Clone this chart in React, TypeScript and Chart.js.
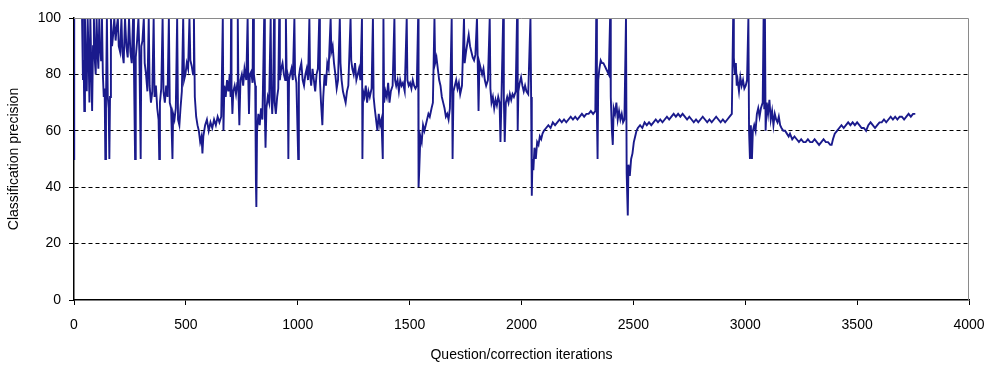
import React, { useEffect, useRef } from 'react';
import { Chart, registerables } from 'chart.js';

Chart.register(...registerables);

const xTitle = 'Question/correction iterations';
const yTitle = 'Classification precision';
const xTicks = [0, 500, 1000, 1500, 2000, 2500, 3000, 3500, 4000];
const yTicks = [0, 20, 40, 60, 80, 100];

// [iteration, precision %]
const phaseA: [number, number][] = [
  [0, 50], [1, 100], [36, 100], [40, 78], [43, 85], [46, 67], [49, 100], [53, 82], [57, 74], [61, 100],
  [65, 88], [69, 70], [73, 100], [77, 84], [81, 67], [85, 90], [89, 100], [93, 85], [97, 80], [101, 100],
  [105, 88], [109, 82], [113, 100], [117, 90], [121, 85], [125, 100], [129, 80], [133, 72], [137, 75], [140, 50],
  [143, 70], [147, 100], [151, 72], [155, 68], [158, 50], [161, 72], [165, 100], [170, 90], [176, 95], [180, 100],
  [186, 92], [190, 96], [196, 100], [200, 90], [206, 88], [212, 100], [216, 88], [222, 84], [228, 100], [234, 90],
  [240, 86], [246, 100], [252, 88], [258, 84], [264, 100], [268, 82], [273, 50], [276, 86], [282, 92], [288, 100],
  [292, 88], [298, 50], [301, 90], [306, 92], [312, 100], [316, 84], [322, 80], [328, 74], [334, 100], [338, 76],
  [344, 70], [350, 74], [356, 100], [360, 72], [366, 76], [372, 68], [378, 64], [381, 50], [384, 70], [390, 75],
  [396, 100], [400, 74], [406, 70], [412, 76], [418, 72], [424, 100], [428, 70], [434, 68], [440, 50], [443, 66],
  [449, 64], [455, 68], [461, 100], [465, 64], [471, 62], [476, 68], [482, 74], [488, 100], [492, 78], [498, 80],
  [504, 84], [510, 82], [516, 100], [520, 85], [526, 83], [532, 80], [536, 100], [540, 72], [546, 65], [552, 62],
  [558, 60], [564, 56], [570, 58], [574, 52], [578, 58], [586, 62], [594, 64], [602, 60], [610, 63], [618, 61],
  [626, 64], [634, 62], [642, 65], [650, 63], [658, 65],
];

const phaseB: [number, number][] = [
  [665, 100], [668, 60], [672, 76], [678, 72], [684, 78], [690, 74], [696, 80], [700, 72], [702, 100], [704, 76],
  [708, 66], [712, 74], [718, 76], [724, 73], [730, 77], [732, 100], [735, 74], [739, 62], [744, 78], [750, 80],
  [756, 76], [762, 82], [770, 78], [776, 100], [779, 78], [782, 66], [786, 80], [792, 81], [798, 77], [800, 100],
  [804, 80], [810, 76], [813, 42], [815, 33], [818, 60], [824, 66], [830, 62], [836, 68], [842, 64], [850, 100],
  [853, 66], [856, 54], [860, 68], [866, 72], [872, 70], [879, 100], [882, 72], [886, 66], [890, 74], [894, 100],
  [897, 70], [902, 66], [908, 72], [913, 75], [917, 100], [920, 78], [926, 82], [932, 84], [938, 80], [944, 78],
  [947, 100], [950, 82], [955, 80], [958, 50], [961, 78], [966, 80], [972, 82], [978, 78], [985, 100], [988, 80],
  [994, 77], [1002, 50], [1005, 79], [1010, 82], [1016, 84], [1022, 78], [1028, 76], [1034, 80], [1040, 82], [1046, 78],
  [1052, 100], [1055, 80], [1060, 76], [1066, 82], [1072, 78], [1078, 74], [1084, 80], [1090, 82], [1096, 100], [1099, 78],
  [1104, 70], [1110, 62], [1114, 72], [1120, 80], [1126, 76], [1132, 84], [1138, 82], [1147, 100], [1150, 88], [1156, 90],
  [1162, 84], [1168, 80], [1174, 75], [1180, 78], [1188, 100], [1191, 84], [1196, 78], [1202, 74], [1208, 72], [1214, 70],
  [1220, 74], [1226, 76], [1236, 100], [1239, 85], [1244, 82], [1250, 80], [1256, 84], [1262, 78], [1268, 80], [1274, 82],
  [1280, 78], [1287, 100], [1289, 50], [1292, 74], [1298, 72], [1304, 76], [1310, 70], [1316, 74], [1322, 72], [1330, 75],
  [1336, 100], [1339, 72], [1344, 68], [1350, 64], [1356, 60], [1362, 66], [1368, 62], [1374, 64], [1380, 50], [1383, 100],
  [1386, 70], [1392, 74], [1398, 72], [1404, 77], [1410, 70], [1416, 74], [1424, 76], [1432, 100], [1435, 78], [1440, 76],
  [1446, 78], [1452, 74], [1458, 78], [1464, 76], [1470, 77], [1478, 74], [1487, 100], [1490, 78], [1496, 76], [1502, 77],
  [1508, 75], [1514, 78], [1520, 76], [1526, 75], [1532, 76], [1538, 100], [1540, 40], [1543, 46], [1548, 58], [1554, 56],
  [1560, 62], [1566, 60], [1572, 62], [1578, 64], [1584, 66], [1590, 65], [1598, 68], [1604, 70], [1611, 100], [1614, 84],
  [1620, 86], [1626, 82], [1632, 78], [1638, 76], [1644, 72], [1650, 70], [1656, 68], [1662, 65], [1668, 66], [1674, 64],
  [1680, 68], [1688, 100], [1692, 50], [1696, 74], [1702, 76], [1708, 78], [1714, 75], [1720, 77], [1726, 73], [1734, 76],
  [1743, 100], [1746, 84], [1752, 88], [1758, 91], [1764, 94], [1770, 90], [1776, 88], [1782, 86], [1788, 85], [1794, 87],
  [1801, 100], [1804, 86], [1808, 67], [1812, 84], [1818, 82], [1824, 80], [1830, 82], [1836, 78], [1842, 76], [1850, 78],
  [1858, 100], [1861, 75], [1866, 70], [1872, 72], [1878, 68], [1884, 71], [1890, 69], [1896, 72], [1902, 70], [1906, 56],
  [1910, 70], [1918, 100], [1921, 72], [1925, 56], [1930, 70], [1936, 72], [1942, 70], [1948, 73], [1954, 71], [1960, 73],
  [1966, 72], [1974, 74], [1980, 100], [1983, 60], [1986, 74], [1992, 77], [1998, 79], [2004, 76], [2010, 74], [2016, 76],
  [2022, 74], [2030, 73], [2040, 100], [2043, 72], [2046, 37], [2049, 50], [2053, 46], [2058, 54], [2064, 50], [2070, 56],
  [2076, 55], [2082, 58], [2088, 57], [2094, 59],
];

const phaseC: [number, number][] = [
  [2100, 60], [2110, 61], [2120, 62], [2130, 61], [2140, 63], [2150, 62], [2160, 63], [2170, 64], [2180, 63], [2190, 64],
  [2200, 63], [2210, 64], [2220, 65], [2230, 64], [2240, 65], [2250, 64], [2260, 65], [2270, 66], [2280, 65], [2290, 66],
  [2300, 66], [2310, 67], [2320, 66], [2330, 67], [2334, 100], [2337, 66], [2340, 50], [2343, 78], [2348, 82], [2354, 85],
  [2360, 84], [2366, 84], [2372, 83], [2378, 82], [2384, 81], [2390, 80], [2396, 100], [2399, 72], [2404, 60], [2408, 55],
  [2412, 68], [2418, 66], [2424, 70], [2430, 64], [2436, 67], [2442, 64], [2448, 66], [2454, 63], [2460, 64], [2467, 100],
  [2470, 45], [2475, 30], [2478, 48], [2484, 44], [2490, 50], [2496, 52], [2502, 56], [2508, 58], [2514, 60], [2520, 61],
  [2530, 62], [2540, 61], [2550, 63], [2560, 62], [2570, 63], [2580, 62], [2590, 63], [2600, 64], [2610, 63], [2620, 64],
  [2630, 63], [2640, 64], [2650, 65], [2660, 64], [2670, 65], [2680, 66], [2690, 65], [2700, 66], [2710, 65], [2720, 66],
  [2730, 65], [2740, 64], [2750, 65], [2760, 64], [2770, 63], [2780, 64], [2790, 63], [2800, 64], [2810, 65], [2820, 64],
  [2830, 63], [2840, 64], [2850, 63], [2860, 64], [2870, 65], [2880, 64], [2890, 63], [2900, 64], [2910, 63], [2920, 64],
  [2930, 65], [2940, 66], [2946, 100], [2949, 86], [2954, 80], [2958, 84], [2962, 76], [2966, 78], [2972, 74], [2978, 79],
  [2984, 76], [2990, 78], [2996, 75], [3002, 76], [3008, 78], [3014, 100], [3017, 60], [3021, 50], [3025, 62], [3030, 50],
  [3034, 60], [3040, 62], [3046, 60], [3052, 66], [3058, 68], [3064, 65], [3070, 68], [3078, 70], [3082, 100], [3085, 68],
  [3088, 100], [3091, 60], [3096, 70], [3102, 66], [3108, 71], [3114, 64], [3120, 67], [3126, 62], [3132, 66], [3138, 64],
  [3144, 63], [3150, 65], [3156, 62], [3162, 61], [3170, 60], [3178, 60], [3186, 59], [3194, 58], [3200, 59], [3210, 57],
  [3220, 58], [3230, 57], [3240, 56], [3250, 57], [3260, 56], [3270, 56], [3280, 57], [3290, 56], [3300, 56], [3310, 57],
  [3320, 56], [3330, 55], [3340, 56], [3350, 57], [3360, 56], [3370, 56], [3380, 55], [3386, 55], [3392, 57], [3400, 59],
  [3410, 60], [3420, 61], [3430, 62], [3440, 61], [3450, 62], [3460, 63], [3470, 62], [3480, 63], [3490, 62], [3500, 63],
  [3510, 62], [3520, 61], [3530, 61], [3540, 60], [3550, 62], [3560, 63], [3570, 62], [3580, 61], [3590, 62], [3600, 63],
  [3610, 63], [3620, 64], [3630, 63], [3640, 64], [3650, 65], [3660, 64], [3670, 65], [3680, 64], [3690, 65], [3700, 65],
  [3710, 64], [3720, 65], [3730, 66], [3740, 65], [3750, 66], [3760, 66],
];

const FONT = 'Arial, "Liberation Sans", sans-serif';

export default function App() {
  const ref = useRef<HTMLCanvasElement>(null);

  useEffect(() => {
    if (!ref.current) return;
    const points = [...phaseA, ...phaseB, ...phaseC].map(([x, y]) => ({ x, y }));

    const framePlugin = {
      id: 'frame',
      afterDatasetsDraw(chart: any) {
        const { ctx, chartArea } = chart;
        ctx.save();
        ctx.strokeStyle = '#8a8a8a';
        ctx.lineWidth = 1;
        ctx.beginPath();
        ctx.moveTo(chartArea.left, chartArea.top + 0.5);
        ctx.lineTo(chartArea.right - 0.5, chartArea.top + 0.5);
        ctx.lineTo(chartArea.right - 0.5, chartArea.bottom);
        ctx.stroke();
        ctx.restore();
      },
    };

    const chart = new Chart(ref.current, {
      type: 'line',
      data: {
        datasets: [
          {
            data: points,
            borderColor: '#1a1a8c',
            borderWidth: 1.9,
            pointRadius: 0,
            tension: 0,
            fill: false,
          },
        ],
      },
      options: {
        animation: false,
        responsive: false,
        parsing: false as any,
        layout: { padding: { top: 18, right: 20, left: 0, bottom: 0 } },
        plugins: { legend: { display: false }, tooltip: { enabled: false } },
        scales: {
          x: {
            type: 'linear',
            min: xTicks[0],
            max: xTicks[xTicks.length - 1],
            afterBuildTicks: (s: any) => { s.ticks = xTicks.map((v) => ({ value: v })); },
            ticks: {
              color: '#000',
              font: { family: FONT, size: 14 },
              padding: 12,
              maxRotation: 0,
              autoSkip: false,
              callback: (v: any) => String(v),
            },
            grid: { drawOnChartArea: false, drawTicks: true, tickLength: 5, tickColor: '#000' },
            border: { color: '#000', width: 1.5 },
            title: { display: true, text: xTitle, color: '#000', font: { family: FONT, size: 14 }, padding: { top: 4, bottom: 2 } },
            afterFit: (s: any) => { s.height = 66; s.paddingLeft = 0; s.paddingRight = 0; },
          },
          y: {
            type: 'linear',
            min: yTicks[0],
            max: yTicks[yTicks.length - 1],
            afterBuildTicks: (s: any) => { s.ticks = yTicks.map((v) => ({ value: v })); },
            ticks: { color: '#000', font: { family: FONT, size: 14 }, padding: 8, callback: (v: any) => String(v) },
            grid: {
              color: (c: any) => (c.tick && c.tick.value > 0 && c.tick.value < 100 ? '#000' : 'rgba(0,0,0,0)'),
              lineWidth: 1,
              drawTicks: true,
              tickLength: 5,
              tickColor: '#000',
            },
            border: { color: '#000', width: 1.5, dash: [4, 3] },
            title: { display: true, text: yTitle, color: '#000', font: { family: FONT, size: 14 }, padding: { top: 6, bottom: 4 } },
            afterFit: (s: any) => { s.width = 74; s.paddingTop = 0; s.paddingBottom = 0; },
          },
        },
      },
      plugins: [framePlugin],
    });
    return () => chart.destroy();
  }, []);

  return (
    <div style={{ position: 'absolute', left: 0, top: 0, width: 989, height: 366, background: '#fff' }}>
      <canvas ref={ref} width={989} height={366} style={{ display: 'block' }} />
    </div>
  );
}
